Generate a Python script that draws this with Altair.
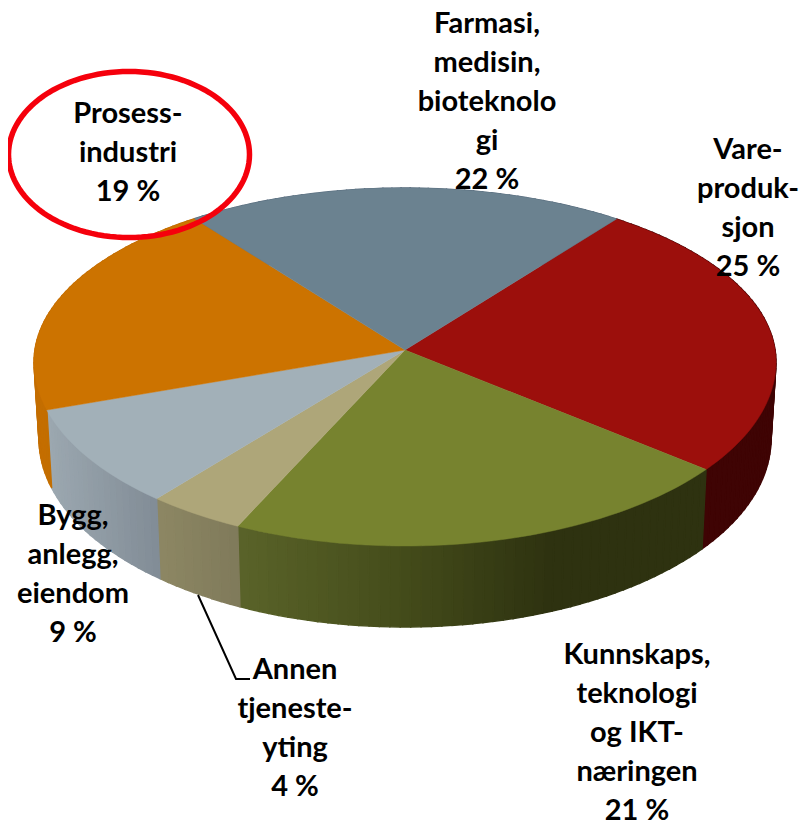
import math
import altair as alt

# Slices, clockwise from the top-right boundary
names = ["Vare-produksjon", "Kunnskaps, teknologi og IKT-næringen", "Annen tjenesteyting",
         "Bygg, anlegg, eiendom", "Prosessindustri", "Farmasi, medisin, bioteknologi"]
shares = [25.5, 21.2, 4.0, 8.8, 20.0, 20.5]
top_colors = ["#9c0f0c", "#77832f", "#aea679", "#a2b0b8", "#cc7300", "#6b8290"]
wall_colors = [["#3f0404", "#3f0404"],
               ["#5a6329", "#454d1b", "#2e3210", "#2e3210"],
               ["#8d8763", "#7f7a5a"],
               ["#9ca8b0", "#818c96"],
               ["#c46e00", "#bb6800"],
               ["#55687a", "#55687a"]]
label_lines = [["Vare-", "produk-", "sjon", "25 %"],
               ["Kunnskaps,", "teknologi", "og IKT-", "næringen", "21 %"],
               ["Annen", "tjeneste-", "yting", "4 %"],
               ["Bygg,", "anlegg,", "eiendom", "9 %"],
               ["Prosess-", "industri", "19 %"],
               ["Farmasi,", "medisin,", "bioteknolo", "gi", "22 %"]]
label_x = [748, 637, 295, 73, 128, 487]
label_first_y = [150, 655, 670, 516, 114, 24]
LINE_STEP = 39

START = 37.0
K = -0.067
HUB = (405, 350)
TOP = dict(cx=405, cy=362, rx=371, up=174, down=184)
BOT = dict(cx=405, cy=439, rx=366, up=188, down=188)


def to_rim(deg):
    t = math.radians(deg)
    u, v = math.sin(t), -math.cos(t)
    d = 1 + K * v
    yc = -K / (1 - K * K)
    ry = 1 / (1 - K * K)
    rx = 1 / math.sqrt(1 - K * K)
    return u / d / rx, (v / d - yc) / ry


def rim(deg, e):
    a, b = to_rim(deg)
    return [e["cx"] + e["rx"] * a, e["cy"] + (e["down"] if b > 0 else e["up"]) * b]


def hex_mix(stops, f):
    f = max(0.0, min(1.0, f)) * (len(stops) - 1)
    i = min(int(f), len(stops) - 2)
    g = f - i
    a = [int(stops[i][j:j + 2], 16) for j in (1, 3, 5)]
    b = [int(stops[i + 1][j:j + 2], 16) for j in (1, 3, 5)]
    return "#%02x%02x%02x" % tuple(round(p + (q - p) * g) for p, q in zip(a, b))


def poly(points, color):
    pts = points + [points[0]]
    return {"type": "Feature", "properties": {"c": color},
            "geometry": {"type": "Polygon", "coordinates": [pts]}}


edges = [START]
for s in shares:
    edges.append(edges[-1] + s / sum(shares) * 360)

walls, tops = [], []
for i in range(len(shares)):
    a0, a1 = edges[i], edges[i + 1]
    n = max(3, int((a1 - a0) / 1.5))
    steps = [a0 + (a1 - a0) * j / n for j in range(n + 1)]
    xs = [rim(a, TOP)[0] for a in steps]
    lo, hi = min(xs), max(xs)
    for j in range(n):
        x_mid = (xs[j] + xs[j + 1]) / 2
        color = hex_mix(wall_colors[i], (x_mid - lo) / (hi - lo))
        walls.append(poly([rim(steps[j], TOP), rim(steps[j + 1], TOP),
                           rim(steps[j + 1], BOT), rim(steps[j], BOT)], color))
    tops.append(poly([list(HUB)] + [rim(a, TOP) for a in steps], top_colors[i]))

ring_pts = [[129 + 120.5 * math.cos(math.radians(d)), 154.5 + 83 * math.sin(math.radians(d))]
            for d in range(0, 361, 3)]
ring = [{"type": "Feature", "properties": {},
         "geometry": {"type": "LineString", "coordinates": ring_pts}}]
leader = [{"type": "Feature", "properties": {},
           "geometry": {"type": "LineString", "coordinates": [[198, 595], [236, 679], [250, 679]]}}]

proj = alt.Projection(type="identity", scale=1, translate=[-8, -8]).to_dict()

wall_layer = alt.Chart(alt.Data(values=walls)).mark_geoshape(strokeWidth=1.4).encode(
    color=alt.Color("properties.c:N", scale=None),
    stroke=alt.Stroke("properties.c:N", scale=None),
).project(**proj)

top_layer = alt.Chart(alt.Data(values=tops)).mark_geoshape(strokeWidth=0.5).encode(
    color=alt.Color("properties.c:N", scale=None),
    stroke=alt.Stroke("properties.c:N", scale=None),
).project(**proj)

ring_layer = alt.Chart(alt.Data(values=ring)).mark_geoshape(
    filled=False, stroke="#f5000c", strokeWidth=5.5).project(**proj)
leader_layer = alt.Chart(alt.Data(values=leader)).mark_geoshape(
    filled=False, stroke="#000000", strokeWidth=2).project(**proj)

rows = []
for lines, x, y0 in zip(label_lines, label_x, label_first_y):
    for n, line in enumerate(lines):
        rows.append({"t": line, "x": x, "y": y0 + n * LINE_STEP})

labels = alt.Chart(alt.Data(values=rows)).mark_text(
    font="Lato", fontWeight="bold", fontSize=29,
    align="center", baseline="middle", color="#000000").encode(
    x=alt.X("x:Q", scale=alt.Scale(domain=[8, 799]), axis=None),
    y=alt.Y("y:Q", scale=alt.Scale(domain=[823, 8]), axis=None),
    text="t:N",
)

chart = alt.layer(wall_layer, top_layer, ring_layer, leader_layer, labels).properties(
    width=791, height=815, padding=0, background="#ffffff",
    autosize=alt.AutoSizeParams(type="none"),
).configure_view(stroke=None)

chart.save("out.html", embed_options={"renderer": "svg", "actions": False})
